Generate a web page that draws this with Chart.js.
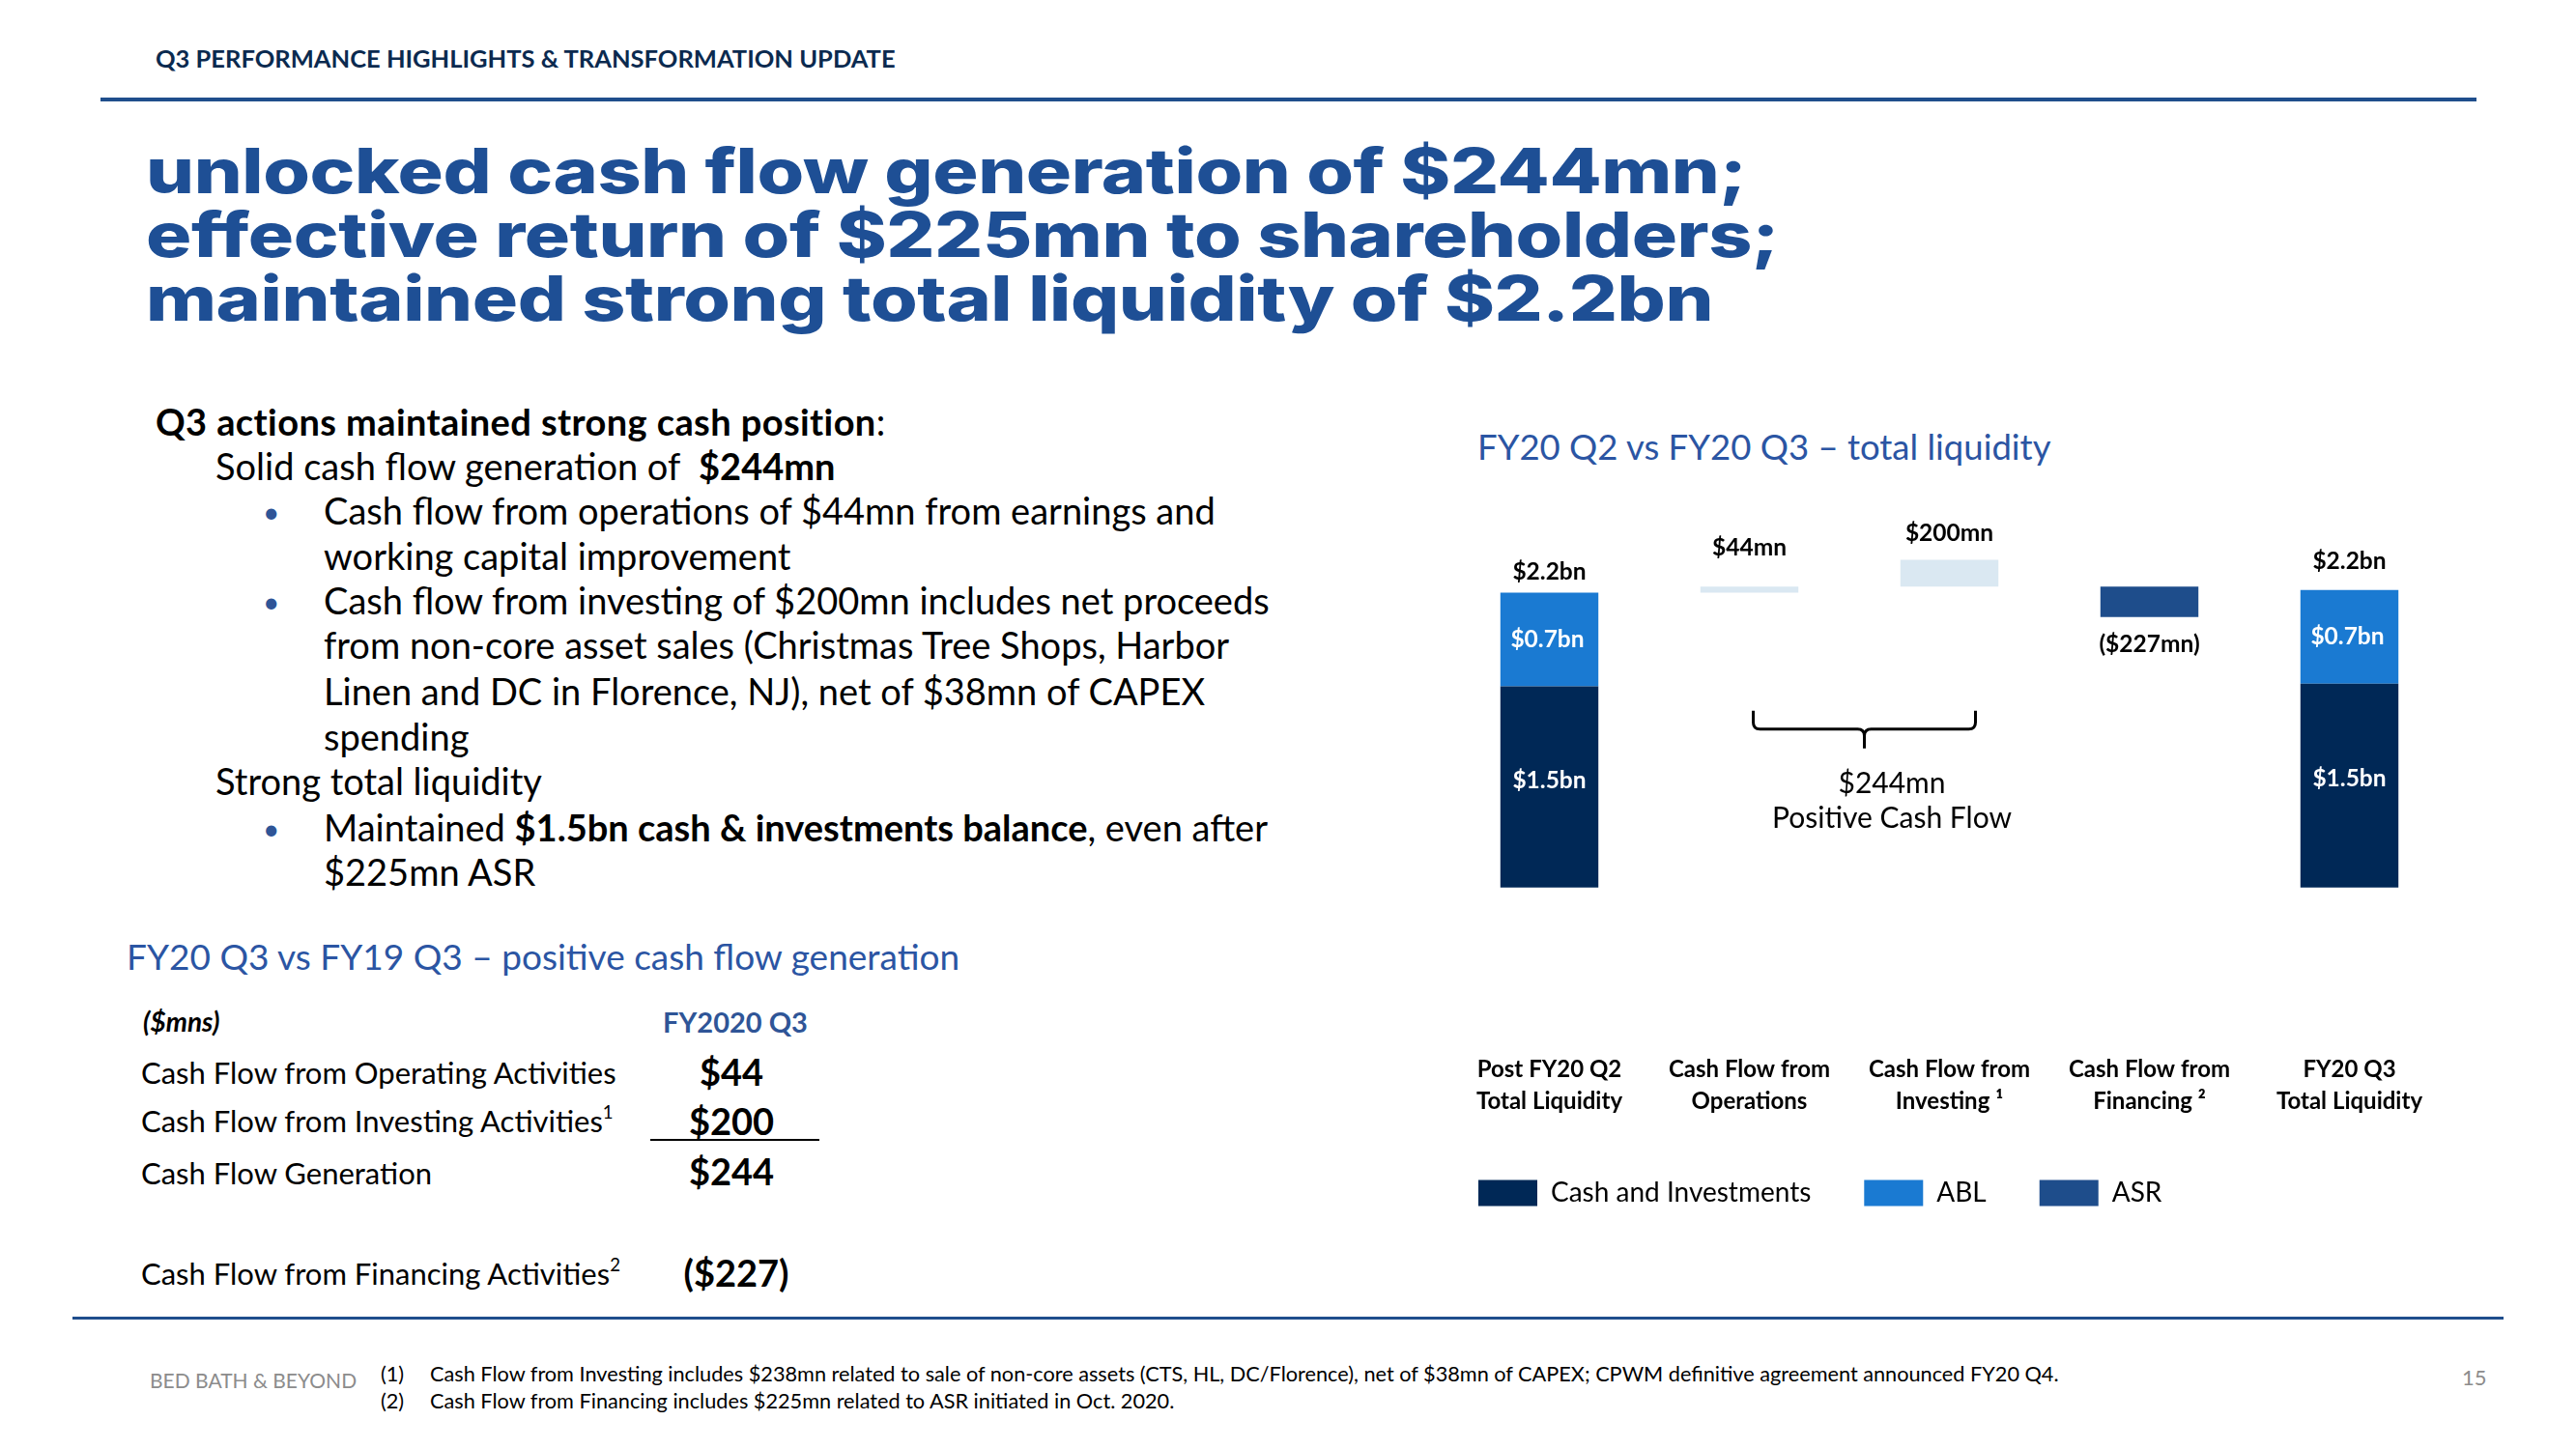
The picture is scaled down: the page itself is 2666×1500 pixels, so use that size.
<!DOCTYPE html>
<html>
<head>
<meta charset="utf-8">
<title>Q3 performance highlights &amp; transformation update</title>
<script src="https://cdn.jsdelivr.net/npm/chart.js"></script>
<style>
  html, body { margin: 0; padding: 0; background: #fff; }
  body { width: 2666px; height: 1500px; position: relative; overflow: hidden; font-family: Lato, "Open Sans", sans-serif; color: #000; }
  .t { position: absolute; white-space: nowrap; line-height: 1.2; }
  .rule { position: absolute; background: #1f4e8c; }
  .head { font-family: Inter, sans-serif; font-weight: 800; font-size: 64px; line-height: 66px; color: #1e4f95; letter-spacing: -0.3px; transform: scaleX(1.23); transform-origin: 0 0; }
  .body38 { font-size: 38px; }
  .bullet { color: #2f5597; font-size: 30px; }
  .section { font-size: 37px; color: #2b55a3; }
  .row { font-size: 31px; }
  .val { font-size: 38px; font-weight: bold; transform: translateX(-50%); }
  .foot { font-size: 21.7px; }
  sup { font-size: 60%; line-height: 0; position: relative; top: -0.15em; }
</style>
</head>
<body>

<div class="t" style="left:161px; top:45px; font-size:25.5px; font-weight:bold; color:#0b2a4f;">Q3 PERFORMANCE HIGHLIGHTS &amp; TRANSFORMATION UPDATE</div>
<div class="rule" style="left:104px; top:101px; width:2459px; height:4px;"></div>

<div class="t head" style="left:151px; top:144px;">unlocked cash flow generation of $244mn;<br>effective return of $225mn to shareholders;<br>maintained strong total liquidity of $2.2bn</div>

<!-- left text block -->
<div class="t body38" style="left:161px; top:414px;"><b style="letter-spacing:0.4px;">Q3 actions maintained strong cash position</b>:</div>
<div class="t body38" style="left:223px; top:460px;">Solid cash flow generation of&nbsp; <b>$244mn</b></div>
<div class="t bullet" style="left:272px; top:511px;">•</div>
<div class="t body38" style="left:335px; top:506px;">Cash flow from operations of $44mn from earnings and</div>
<div class="t body38" style="left:335px; top:553px;">working capital improvement</div>
<div class="t bullet" style="left:272px; top:604px;">•</div>
<div class="t body38" style="left:335px; top:599px;">Cash flow from investing of $200mn includes net proceeds</div>
<div class="t body38" style="left:335px; top:645px;">from non-core asset sales (Christmas Tree Shops, Harbor</div>
<div class="t body38" style="left:335px; top:693px;">Linen and DC in Florence, NJ), net of $38mn of CAPEX</div>
<div class="t body38" style="left:335px; top:740px;">spending</div>
<div class="t body38" style="left:223px; top:786px;">Strong total liquidity</div>
<div class="t bullet" style="left:272px; top:839px;">•</div>
<div class="t body38" style="left:335px; top:834px;">Maintained <b>$1.5bn cash &amp; investments balance</b>, even after</div>
<div class="t body38" style="left:335px; top:880px;">$225mn ASR</div>

<!-- cash flow table -->
<div class="t section" style="left:131px; top:968px;">FY20 Q3 vs FY19 Q3 – positive cash flow generation</div>
<div class="t" style="left:148px; top:1041px; font-size:28px; font-weight:bold; font-style:italic;">($mns)</div>
<div class="t" style="left:761px; top:1041px; font-size:29px; font-weight:bold; color:#2f5597; transform:translateX(-50%);">FY2020 Q3</div>
<div class="t row" style="left:146px; top:1092px;">Cash Flow from Operating Activities</div>
<div class="t row" style="left:146px; top:1142px;">Cash Flow from Investing Activities<sup>1</sup></div>
<div class="t row" style="left:146px; top:1196px;">Cash Flow Generation</div>
<div class="t row" style="left:146px; top:1300px;">Cash Flow from Financing Activities<sup>2</sup></div>
<div class="t val" style="left:757px; top:1087px;">$44</div>
<div class="t val" style="left:757px; top:1138px;">$200</div>
<div class="t val" style="left:757px; top:1190px;">$244</div>
<div class="t val" style="left:762px; top:1295px;">($227)</div>
<div style="position:absolute; left:673px; top:1179px; width:175px; height:2px; background:#000;"></div>

<!-- chart -->
<div class="t" style="left:1529px; top:441px; font-size:36.5px; color:#2b55a3;">FY20 Q2 vs FY20 Q3 – total liquidity</div>
<div style="position:absolute; left:1475px; top:520px; width:1085px; height:739px;">
  <canvas id="liquidity-chart" width="1085" height="739"></canvas>
</div>

<!-- footer -->
<div class="rule" style="left:75px; top:1363px; width:2516px; height:3px;"></div>
<div class="t foot" style="left:155px; top:1416px; font-size:21px; color:#8c8c8c;">BED BATH &amp; BEYOND</div>
<div class="t foot" style="left:394px; top:1409px;">(1)</div>
<div class="t foot" style="left:445px; top:1409px;">Cash Flow from Investing includes $238mn related to sale of non-core assets (CTS, HL, DC/Florence), net of $38mn of CAPEX; CPWM definitive agreement announced FY20 Q4.</div>
<div class="t foot" style="left:394px; top:1437px;">(2)</div>
<div class="t foot" style="left:445px; top:1437px;">Cash Flow from Financing includes $225mn related to ASR initiated in Oct. 2020.</div>
<div class="t" style="left:2548px; top:1413px; font-size:22px; color:#8c8c8c;">15</div>

<script>
// Chart Data ($mn)
const categories = [
    ['Post FY20 Q2', 'Total Liquidity'],
    ['Cash Flow from', 'Operations'],
    ['Cash Flow from', 'Investing ¹'],
    ['Cash Flow from', 'Financing ²'],
    ['FY20 Q3', 'Total Liquidity']
];
const cashAndInvestments = [1500, null, null, null, 1520];
const ablBalance = [700, null, null, null, 700];
const flowStart = [null, 2200, 2244, 2244, null];
const flowChange = [null, 44, 200, -227, null];

const totalLabels = ['$2.2bn', '$44mn', '$200mn', '($227mn)', '$2.2bn'];
const cashLabels = ['$1.5bn', null, null, null, '$1.5bn'];
const ablLabels = ['$0.7bn', null, null, null, '$0.7bn'];
const bracketLabel = ['$244mn', 'Positive Cash Flow'];

// floating bars [from, to]
const cashBars = cashAndInvestments.map((v) => v == null ? null : [0, v]);
const ablBars = ablBalance.map((v, i) => v == null ? null : [cashAndInvestments[i], cashAndInvestments[i] + v]);
const inflowBars = flowChange.map((v, i) => v == null || v < 0 ? null : [flowStart[i], flowStart[i] + v]);
const asrBars = flowChange.map((v, i) => v == null || v >= 0 ? null : [flowStart[i], flowStart[i] + v]);

// gap between bar end and its value label, px
const labelGap = [21, 40, 27, 28, 30];

const barText = {
    id: 'barText',
    afterDatasetsDraw(chart) {
        const ctx = chart.ctx;
        const cashMeta = chart.getDatasetMeta(0);
        const ablMeta = chart.getDatasetMeta(1);
        const flowMeta = chart.getDatasetMeta(2);
        const asrMeta = chart.getDatasetMeta(3);

        ctx.save();
        ctx.textAlign = 'center';
        ctx.textBaseline = 'middle';
        ctx.font = 'bold 24.5px Lato';

        totalLabels.forEach((text, i) => {
            let el = ablMeta.data[i];
            if (ablBalance[i] == null) {
                el = flowChange[i] < 0 ? asrMeta.data[i] : flowMeta.data[i];
            }
            const down = flowChange[i] != null && flowChange[i] < 0;
            const y = down ? Math.max(el.y, el.base) + labelGap[i] : Math.min(el.y, el.base) - labelGap[i];
            ctx.fillStyle = '#000';
            ctx.fillText(text, el.x, y);
        });

        ctx.fillStyle = '#fff';
        cashLabels.forEach((text, i) => {
            if (!text) return;
            const el = cashMeta.data[i];
            ctx.fillText(text, el.x, (el.y + el.base) / 2 - 7);
        });
        ablLabels.forEach((text, i) => {
            if (!text) return;
            const el = ablMeta.data[i];
            ctx.fillText(text, el.x - 2, (el.y + el.base) / 2);
        });

        // bracket under the two inflow bars
        const a = flowMeta.data[1];
        const b = flowMeta.data[2];
        const base = chart.scales.y.getPixelForValue(0);
        const xl = a.x + 4;
        const xr = b.x + 27;
        const xm = (xl + xr) / 2;
        const top = base - 183;
        const mid = base - 164;
        const tip = base - 144;
        const r = 7;
        ctx.strokeStyle = '#000';
        ctx.lineWidth = 3;
        ctx.beginPath();
        ctx.moveTo(xl, top);
        ctx.lineTo(xl, mid - r);
        ctx.quadraticCurveTo(xl, mid, xl + r, mid);
        ctx.lineTo(xm - r, mid);
        ctx.quadraticCurveTo(xm, mid, xm, mid + r);
        ctx.lineTo(xm, tip);
        ctx.moveTo(xm, mid + r);
        ctx.quadraticCurveTo(xm, mid, xm + r, mid);
        ctx.lineTo(xr - r, mid);
        ctx.quadraticCurveTo(xr, mid, xr, mid - r);
        ctx.lineTo(xr, top);
        ctx.stroke();

        ctx.fillStyle = '#000';
        ctx.font = '30px Lato';
        const tx = (a.x + b.x) / 2 + 44;
        ctx.fillText(bracketLabel[0], tx, base - 107);
        ctx.fillText(bracketLabel[1], tx, base - 71);
        ctx.restore();
    }
};

new Chart(document.getElementById('liquidity-chart'), {
    type: 'bar',
    data: {
        labels: categories,
        datasets: [
            {label: 'Cash and Investments', data: cashBars, backgroundColor: '#002856'},
            {label: 'ABL', data: ablBars, backgroundColor: '#1a7ad2'},
            {label: 'Cash Flow', data: inflowBars, backgroundColor: '#dae8f2'},
            {label: 'ASR', data: asrBars, backgroundColor: '#1e4d8b'}
        ]
    },
    options: {
        responsive: false,
        animation: false,
        layout: {padding: {left: 0, right: 25, top: 24, bottom: 0}},
        datasets: {
            bar: {grouped: false, barPercentage: 0.49, categoryPercentage: 1, borderWidth: 0}
        },
        plugins: {
            tooltip: {enabled: false},
            legend: {
                position: 'bottom',
                align: 'start',
                labels: {
                    filter: (item) => item.text !== 'Cash Flow',
                    boxWidth: 61,
                    boxHeight: 27,
                    padding: 55,
                    color: '#000',
                    font: {family: 'Lato', size: 28}
                }
            }
        },
        scales: {
            x: {
                grid: {display: false, drawTicks: false},
                border: {display: false},
                ticks: {
                    padding: 10,
                    autoSkip: false,
                    maxRotation: 0,
                    color: '#000',
                    font: {family: 'Lato', size: 24, weight: 'bold', lineHeight: 1.35}
                }
            },
            y: {
                // room below zero keeps the category labels well under the bars
                min: -1170,
                max: 2700,
                grid: {display: false, drawTicks: false},
                border: {display: false},
                ticks: {display: false},
                afterFit: (scale) => { scale.width = 25; }
            }
        }
    },
    plugins: [barText]
});
</script>
</body>
</html>
